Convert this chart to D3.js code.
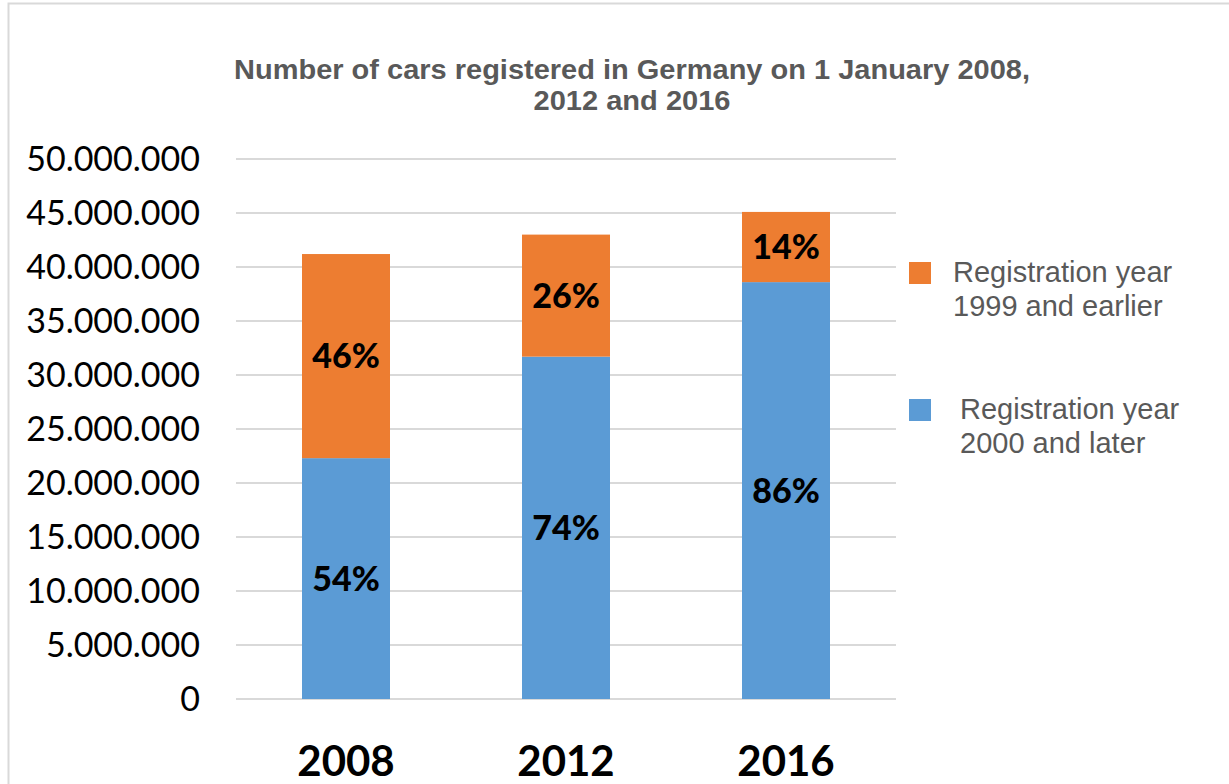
<!DOCTYPE html>
<html>
<head>
<meta charset="utf-8">
<script src="https://cdn.jsdelivr.net/npm/d3@7"></script>
<style>
  body { margin: 0; background: #fff; }
  svg { display: block; }
</style>
</head>
<body>
<svg width="1229" height="784"></svg>
<script>
// data
var years = ["2008", "2012", "2016"];
var newerCars = [22300000, 31700000, 38600000];   // registration year 2000 and later
var olderCars = [18900000, 11300000, 6500000];    // registration year 1999 and earlier
var yTicks = [0, 5000000, 10000000, 15000000, 20000000, 25000000, 30000000, 35000000, 40000000, 45000000, 50000000];
var titleLines = ["Number of cars registered in Germany on 1 January 2008,", "2012 and 2016"];
var legendItems = [
    {label: ["Registration year", "1999 and earlier"], color: "#ED7D31"},
    {label: ["Registration year", "2000 and later"], color: "#5B9BD5"}
];

var svg = d3.select("svg");

// outer chart border
svg.append("rect")
    .attr("x", 8.5).attr("y", 3.5)
    .attr("width", 1400).attr("height", 900)
    .attr("fill", "none")
    .attr("stroke", "#D9D9D9")
    .attr("stroke-width", 2);

var x = d3.scaleBand()
    .domain(years)
    .range([236, 896])
    .paddingInner(0.6)
    .paddingOuter(0.3);

var y = d3.scaleLinear()
    .domain([0, 50000000])
    .range([699, 159]);

// title
svg.append("g").selectAll("text")
    .data(titleLines)
    .enter().append("text")
    .attr("x", 632)
    .attr("y", function(d, i) { return 79 + i * 31; })
    .attr("text-anchor", "middle")
    .attr("textLength", function(d, i) { return i == 0 ? 796 : 197; })
    .attr("lengthAdjust", "spacingAndGlyphs")
    .style("font-family", "Liberation Sans, Arial, sans-serif")
    .style("font-weight", "bold")
    .style("font-size", "28px")
    .style("fill", "#595959")
    .text(function(d) { return d; });

// gridlines
svg.append("g").selectAll("line")
    .data(yTicks)
    .enter().append("line")
    .attr("x1", 236).attr("x2", 896)
    .attr("y1", function(d) { return y(d); })
    .attr("y2", function(d) { return y(d); })
    .attr("stroke", "#D9D9D9")
    .attr("stroke-width", 2);

// Y-Axis labels
var fmt = function(v) { return v == 0 ? "0" : d3.format(",")(v).replace(/,/g, "."); };
svg.append("g").selectAll("text")
    .data(yTicks)
    .enter().append("text")
    .attr("x", 200)
    .attr("y", function(d) { return y(d) + 12; })
    .attr("text-anchor", "end")
    .style("font-family", "Lato, sans-serif")
    .style("font-size", "34px")
    .style("fill", "#000")
    .text(fmt);

// stacked bars
var rows = years.map(function(yr, i) {
    return {year: yr, newer: newerCars[i], older: olderCars[i]};
});
var stackData = d3.stack().keys(["newer", "older"])(rows);
var colors = {newer: "#5B9BD5", older: "#ED7D31"};

var groups = svg.selectAll("g.bars")
    .data(stackData)
    .enter().append("g")
    .attr("class", "bars")
    .style("fill", function(d) { return colors[d.key]; });

groups.selectAll("rect")
    .data(function(d) { return d; })
    .enter().append("rect")
    .attr("x", function(d) { return x(d.data.year); })
    .attr("y", function(d) { return y(d[1]); })
    .attr("height", function(d) { return y(d[0]) - y(d[1]); })
    .attr("width", x.bandwidth());

// percentage labels
groups.selectAll("text")
    .data(function(d) { return d; })
    .enter().append("text")
    .attr("x", function(d) { return x(d.data.year) + x.bandwidth() / 2; })
    .attr("y", function(d) { return (y(d[0]) + y(d[1])) / 2 + 12; })
    .attr("text-anchor", "middle")
    .style("font-family", "Lato, sans-serif")
    .style("font-weight", "900")
    .style("font-size", "34px")
    .style("fill", "#000")
    .text(function(d) {
        var total = d.data.newer + d.data.older;
        return Math.round((d[1] - d[0]) / total * 100) + "%";
    });

// X-Axis labels
svg.append("g").selectAll("text")
    .data(years)
    .enter().append("text")
    .attr("x", function(d) { return x(d) + x.bandwidth() / 2; })
    .attr("y", 776)
    .attr("text-anchor", "middle")
    .style("font-family", "Lato, sans-serif")
    .style("font-weight", "bold")
    .style("font-size", "42px")
    .style("fill", "#000")
    .text(function(d) { return d; });

// legend
var legend = svg.append("g").selectAll("g")
    .data(legendItems)
    .enter().append("g")
    .attr("transform", function(d, i) { return "translate(909," + (262 + i * 137) + ")"; });

legend.append("rect")
    .attr("width", 22).attr("height", 22)
    .attr("fill", function(d) { return d.color; });

legend.each(function(d, i) {
    d3.select(this).selectAll("text")
        .data(d.label)
        .enter().append("text")
        .attr("x", i == 0 ? 44 : 51)
        .attr("y", function(t, j) { return 20 + j * 34; })
        .style("font-family", "Liberation Sans, Arial, sans-serif")
        .style("font-size", "29px")
        .style("fill", "#595959")
        .text(function(t) { return t; });
});
</script>
</body>
</html>
